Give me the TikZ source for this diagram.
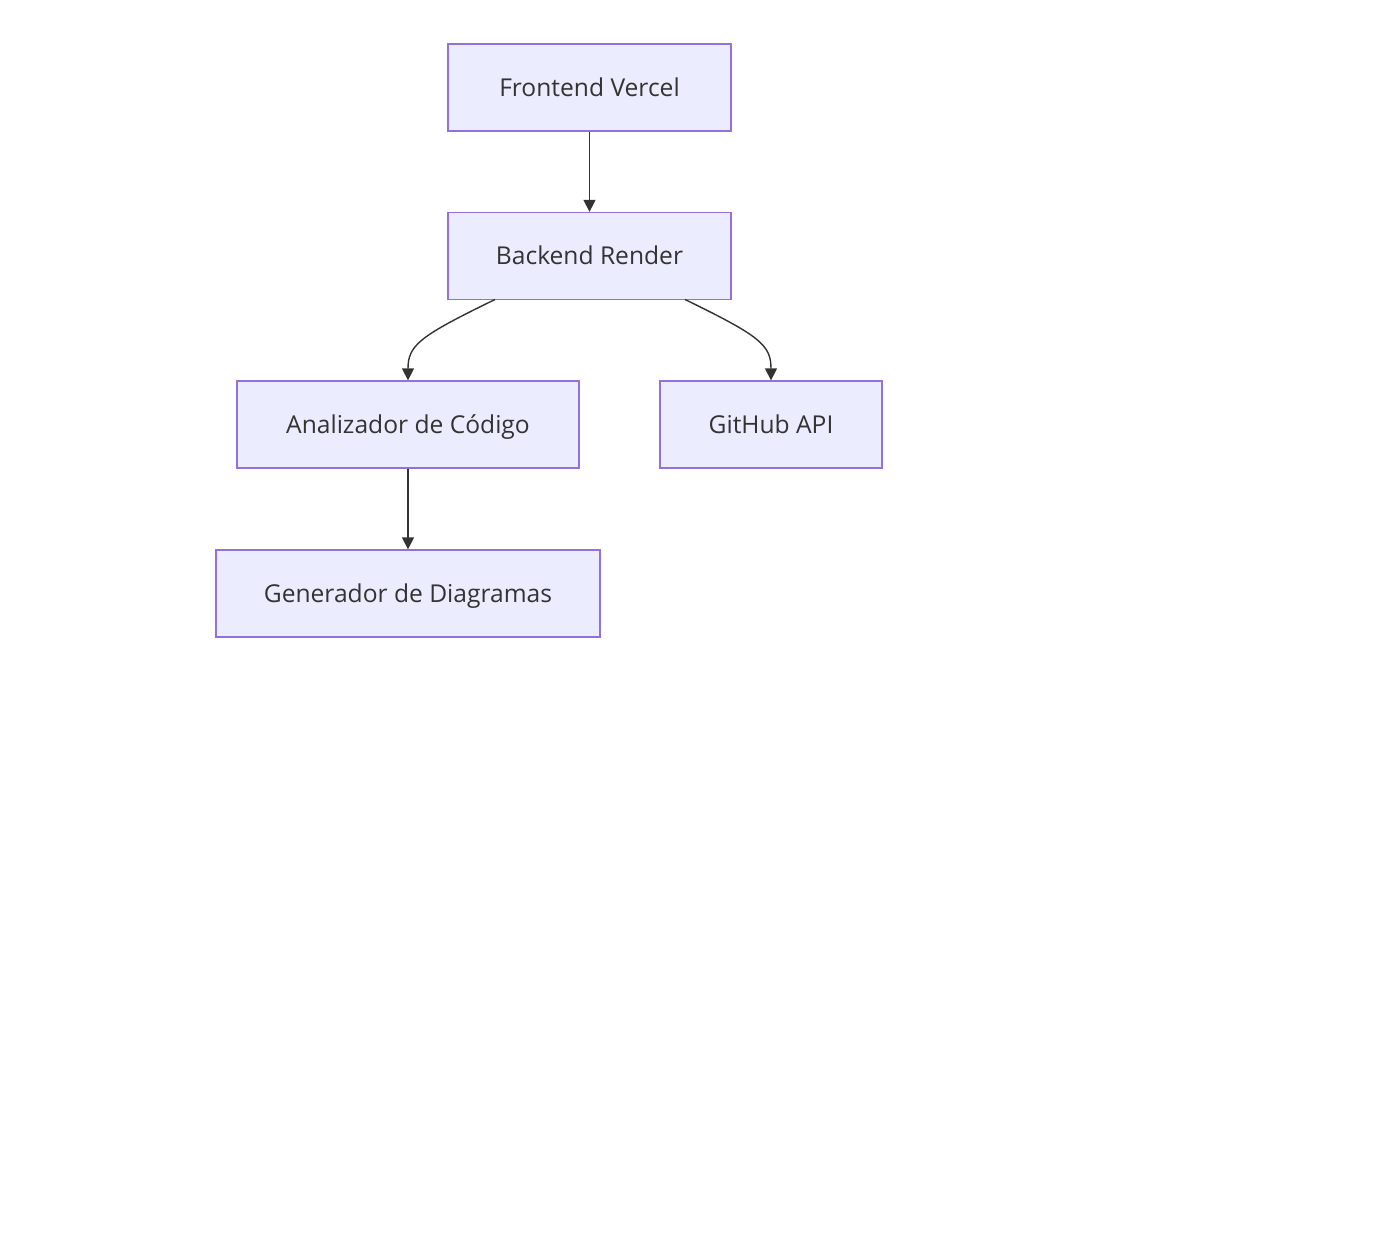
\documentclass[tikz,border=0pt]{standalone}
\usepackage{fontspec}
\setmainfont{Open Sans}
\usetikzlibrary{arrows.meta}
\definecolor{nodefill}{HTML}{ECECFF}
\definecolor{nodeline}{HTML}{9370DB}
\definecolor{edgecol}{HTML}{333333}
\definecolor{txt}{HTML}{333333}
\begin{document}
\begin{tikzpicture}[x=1pt,y=-1pt,
  box/.style={draw=nodeline,fill=nodefill,line width=1.3pt,minimum height=87pt,inner sep=0pt,
    text=txt,font=\fontsize{24.6}{29}\selectfont,text height=20pt,text depth=2pt},
  edge/.style={draw=edgecol,line width=1.4pt,-{Triangle[length=12pt,width=12pt]}}]
\useasboundingbox (0,0) rectangle (1393,1260);
\fill[white] (0,0) rectangle (1393,1260);
\node[box,minimum width=283pt] (fe) at (589.5,87.5) {Frontend Vercel};
\node[box,minimum width=283pt] (be) at (589.5,256) {Backend Render};
\node[box,minimum width=342pt] (an) at (408,424.5) {Analizador de Código};
\node[box,minimum width=222pt] (gh) at (771,424.5) {GitHub API};
\node[box,minimum width=384pt] (ge) at (408,593.5) {Generador de Diagramas};
\draw[edge] (fe.south) -- (be.north);
\coordinate (b1) at (495,299.5);
\coordinate (b2) at (685,299.5);
\draw[edge] (b1) .. controls (420,336) and (408,345) .. (an.north);
\draw[edge] (b2) .. controls (760,336) and (771,345) .. (gh.north);
\draw[edge] (an.south) -- (ge.north);
\end{tikzpicture}
\end{document}
